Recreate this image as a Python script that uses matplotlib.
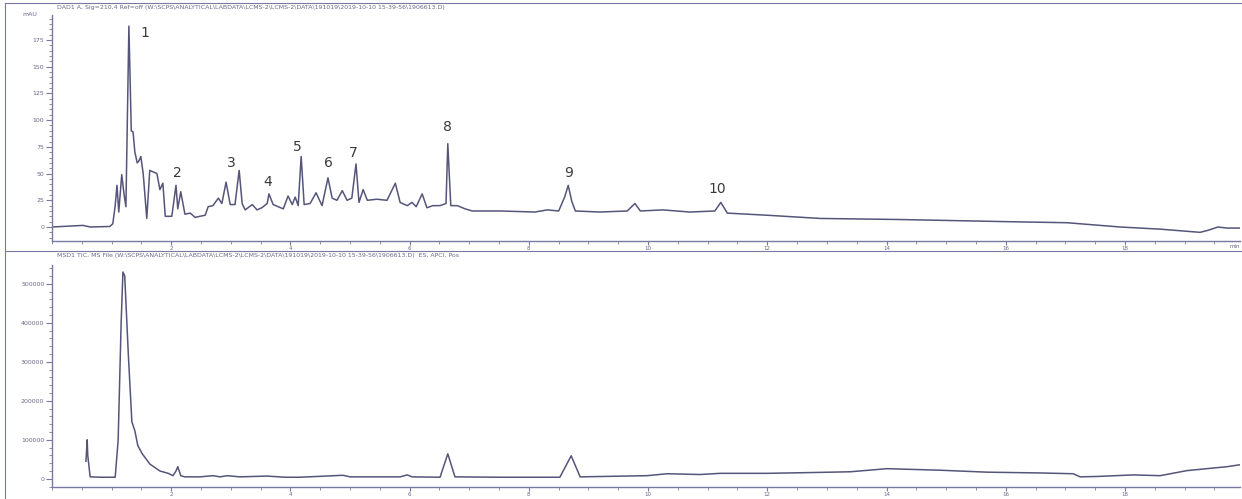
import matplotlib
matplotlib.use('Agg')
import matplotlib.pyplot as plt
from matplotlib.lines import Line2D
from matplotlib.ticker import MultipleLocator

# DAD trace (time in min, mAU)
dad_time = [0.0, 0.52, 0.64, 0.97, 1.02, 1.06, 1.09, 1.12, 1.17, 1.21, 1.24, 1.29, 1.33, 1.36,
            1.39, 1.43, 1.46, 1.49, 1.53, 1.59, 1.64, 1.76, 1.81, 1.86, 1.90, 2.01, 2.08, 2.11,
            2.16, 2.23, 2.32, 2.40, 2.48, 2.57, 2.62, 2.70, 2.79, 2.85, 2.92, 2.99, 3.07, 3.14,
            3.19, 3.24, 3.36, 3.44, 3.52, 3.61, 3.64, 3.71, 3.88, 3.96, 4.03, 4.08, 4.13, 4.18,
            4.23, 4.33, 4.43, 4.53, 4.63, 4.70, 4.78, 4.87, 4.95, 5.03, 5.10, 5.15, 5.22, 5.29,
            5.45, 5.62, 5.76, 5.84, 5.96, 6.04, 6.11, 6.21, 6.29, 6.39, 6.51, 6.61, 6.64, 6.69,
            6.80, 6.93, 7.05, 7.52, 8.10, 8.31, 8.50, 8.60, 8.66, 8.72, 8.78, 9.19, 9.65, 9.78,
            9.87, 10.25, 10.70, 11.12, 11.22, 11.33, 12.00, 12.89, 14.23, 16.02, 17.03, 17.92,
            18.59, 19.26, 19.40, 19.56, 19.71, 19.93]
dad_mau = [0, 1.5, 0, 0.5, 3, 20, 39, 14, 49, 30, 19, 188, 90, 89,
           70, 60, 62, 66, 50, 8, 53, 50, 35, 41, 10, 10, 39, 17,
           33, 12, 13, 9, 10, 11, 19, 20, 27, 22, 42, 21, 21, 53,
           22, 16, 21, 16, 18, 22, 31, 21, 17, 29, 21, 28, 20, 66,
           21, 22, 32, 20, 46, 27, 25, 34, 25, 27, 59, 23, 35, 25,
           26, 25, 41, 23, 20, 23, 19, 31, 18, 20, 20, 22, 78, 20,
           20, 17, 15, 15, 14, 16, 15, 28, 39, 24, 15, 14, 15, 22,
           15, 16, 14, 15, 23, 13, 11, 8, 7, 5, 4, 0,
           -2, -5, -3, 0, -1, -1]

# peak numbers (label, time, mAU of the label)
peak_names = ['1', '2', '3', '4', '5', '6', '7', '8', '9', '10']
peak_time = [1.56, 2.11, 3.00, 3.62, 4.11, 4.63, 5.05, 6.64, 8.67, 11.16]
peak_ypos = [182, 51, 60, 42, 75, 60, 69, 94, 51, 36]

# MS TIC trace (time in min, counts)
tic_time = [0.57, 0.59, 0.60, 0.64, 0.81, 1.06, 1.11, 1.16, 1.19, 1.22, 1.28, 1.34, 1.39,
            1.44, 1.51, 1.64, 1.81, 1.95, 2.03, 2.08, 2.11, 2.16, 2.23, 2.48, 2.70, 2.82,
            2.94, 3.15, 3.61, 3.91, 4.16, 4.88, 5.00, 5.84, 5.96, 6.04, 6.51, 6.64, 6.76,
            7.52, 8.52, 8.71, 8.86, 9.98, 10.32, 10.87, 11.21, 12.00, 12.72, 13.39, 14.01,
            14.90, 15.69, 16.58, 17.13, 17.25, 17.53, 18.14, 18.59, 19.04, 19.71, 19.93]
tic_counts = [45000, 100000, 60000, 5000, 4000, 4000, 100000, 400000, 530000, 520000, 320000,
              146000, 123000, 85000, 65000, 38000, 20000, 14000, 8000, 20000, 31000, 8000,
              5000, 5000, 8000, 5000, 8000, 5000, 7000, 4000, 4000, 9000, 5000, 5000, 10000,
              5000, 4000, 64000, 5000, 4000, 4000, 59000, 5000, 8000, 13000, 11000, 14000,
              14000, 16000, 18000, 26000, 22000, 17000, 15000, 13000, 5000, 6000, 10000, 8000,
              21000, 31000, 36000]

dad_yticks = [0, 25, 50, 75, 100, 125, 150, 175]
tic_yticks = [0, 100000, 200000, 300000, 400000, 500000]
time_ticks = [2, 4, 6, 8, 10, 12, 14, 16, 18]

dad_title = ('DAD1 A, Sig=210,4 Ref=off (W:\\SCPS\\ANALYTICAL\\LABDATA\\LCMS-2\\LCMS-2\\DATA\\191019\\'
             '2019-10-10 15-39-56\\1906613.D)')
tic_title = ('MSD1 TIC, MS File (W:\\SCPS\\ANALYTICAL\\LABDATA\\LCMS-2\\LCMS-2\\DATA\\191019\\'
             '2019-10-10 15-39-56\\1906613.D)  ES, APCI, Pos')

line_col = '#55557a'
axis_col = '#7a7aa0'
text_col = '#6a6a88'

W, H = 1242, 499
fig = plt.figure(figsize=(W / 100, H / 100), dpi=100)


def px_box(x0, y_top, x1, y_bot):
    return [x0 / W, 1 - y_bot / H, (x1 - x0) / W, (y_bot - y_top) / H]


def style_axis(ax, ylim, yticks, ylabels, yminor):
    ax.set_xlim(0, 19.93)
    ax.set_ylim(*ylim)
    for s in ['top', 'right']:
        ax.spines[s].set_visible(False)
    for s in ['left', 'bottom']:
        ax.spines[s].set_color(axis_col)
        ax.spines[s].set_linewidth(1.0)
    ax.set_xticks(time_ticks)
    ax.set_xticklabels([str(t) for t in time_ticks])
    ax.xaxis.set_minor_locator(MultipleLocator(0.5))
    ax.set_yticks(yticks)
    ax.set_yticklabels(ylabels)
    ax.yaxis.set_minor_locator(MultipleLocator(yminor))
    ax.tick_params(which='major', length=4, width=0.8, color=axis_col, labelsize=4.5,
                   labelcolor=text_col, pad=1.5)
    ax.tick_params(axis='x', which='major', length=3, pad=0.5, labelsize=4)
    ax.tick_params(which='minor', length=2, width=0.6, color=axis_col)
    ax.patch.set_alpha(0)


# upper panel: DAD
ax1 = fig.add_axes(px_box(52, 15, 1240, 241))
ax1.plot(dad_time, dad_mau, color=line_col, lw=1.1)
style_axis(ax1, (-13.1, 198.4), dad_yticks, [str(v) for v in dad_yticks], 5)
ax1.text(-0.25, 198.4, 'mAU', ha='right', va='center', fontsize=4.5, color=text_col)
ax1.text(19.93, -16, 'min', ha='right', va='top', fontsize=4, color=text_col)
for name, t, y in zip(peak_names, peak_time, peak_ypos):
    ax1.text(t, y, name, ha='center', va='center', fontsize=10, color='#3a3a3a')

# lower panel: MS TIC
ax2 = fig.add_axes(px_box(52, 265, 1240, 487))
ax2.plot(tic_time, tic_counts, color=line_col, lw=1.1)
style_axis(ax2, (-21000, 548000), tic_yticks, [str(v) for v in tic_yticks], 20000)

# panel titles and frame lines of the printout
fig.text(57 / W, 1 - 8 / H, dad_title, fontsize=4.5, color=text_col, va='center', ha='left')
fig.text(57 / W, 1 - 255 / H, tic_title, fontsize=4.5, color=text_col, va='center', ha='left')
fig.add_artist(Line2D([5 / W, 5 / W], [0, 1 - 3 / H], color=axis_col, lw=0.8))
fig.add_artist(Line2D([5 / W, 1], [1 - 3 / H, 1 - 3 / H], color=axis_col, lw=0.8))
fig.add_artist(Line2D([5 / W, 1], [1 - 251 / H, 1 - 251 / H], color=axis_col, lw=0.8))

fig.savefig('out.png', dpi=100, facecolor='white')
